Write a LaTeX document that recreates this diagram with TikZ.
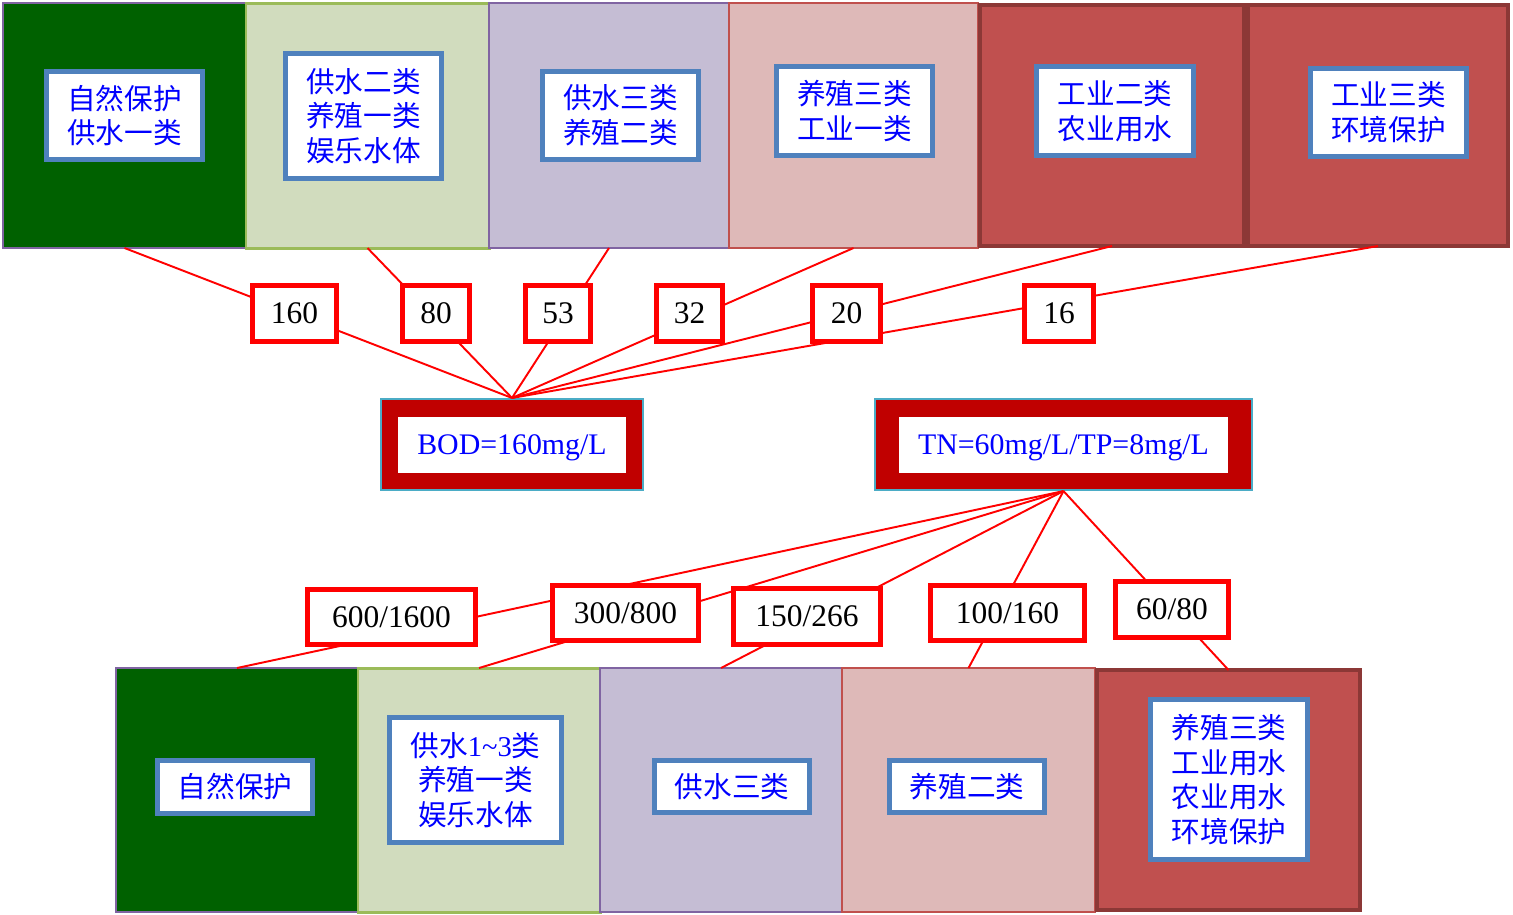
\documentclass[tikz,border=0pt]{standalone}
\usepackage{fontspec}
\setmainfont{Liberation Serif}
\newfontfamily\cjk{Noto Sans CJK SC}
\definecolor{dkgreen}{HTML}{006100}
\definecolor{ltgreen}{HTML}{D1DCBE}
\definecolor{lavender}{HTML}{C5BDD4}
\definecolor{pinkfill}{HTML}{DEB9B8}
\definecolor{brick}{HTML}{C0504F}
\definecolor{brickb}{HTML}{8C3836}
\definecolor{purpleb}{HTML}{8064A2}
\definecolor{greenb}{HTML}{9BBB59}
\definecolor{pinkb}{HTML}{C0504D}
\definecolor{blueb}{HTML}{4F81BD}
\definecolor{cyanb}{HTML}{4BACC6}
\definecolor{darkredfill}{HTML}{C00000}
\definecolor{txtblue}{HTML}{0000FF}
\begin{document}
\begin{tikzpicture}[x=0.02cm,y=-0.02cm,
  sz/.style 2 args={minimum width=#1*0.02cm, minimum height=#2*0.02cm},
  region/.style={rectangle, inner sep=0pt, outer sep=0pt},
  lab/.style={rectangle, draw=blueb, line width=2.8pt, fill=white, inner sep=0pt,
    align=center, text=txtblue, font=\cjk\fontsize{16.3}{19.8}\selectfont},
  num/.style={rectangle, draw=red, line width=2.8pt, fill=white, inner sep=0pt,
    text=black, font=\fontsize{17.9}{20}\selectfont},
  conc/.style={rectangle, fill=darkredfill, draw=cyanb, line width=1.2pt, inner sep=0pt},
  conctext/.style={rectangle, fill=white, inner sep=0pt, text depth=0pt, text=txtblue, font=\fontsize{17}{20}\selectfont},
  link/.style={draw=red, line width=1.1pt}]
\useasboundingbox (0,0) rectangle (1513,914);

% top regions
\node[region, fill=dkgreen, draw=purpleb, line width=1.2pt, sz={243}{245}] (t1) at (124.5,125.5) {};
\node[region, fill=ltgreen, draw=greenb, line width=1.7pt, sz={243}{245}] (t2) at (367.5,125.5) {};
\node[region, fill=lavender, draw=purpleb, line width=1.2pt, sz={240}{245}] (t3) at (609,125.5) {};
\node[region, fill=pinkfill, draw=pinkb, line width=1.2pt, sz={249}{245}] (t4) at (853.5,125.5) {};
\node[region, fill=brick, draw=brickb, line width=2.6pt, sz={264}{241}] (t5) at (1112,125.5) {};
\node[region, fill=brick, draw=brickb, line width=2.6pt, sz={260}{241}] (t6) at (1378,125.5) {};

% top labels
\node[lab, sz={156}{88}] (i1) at (124.5,115.5) {自然保护\\供水一类};
\node[lab, sz={156}{125}] (i2) at (363.5,116) {供水二类\\养殖一类\\娱乐水体};
\node[lab, sz={156}{88}] (i3) at (620.5,115.5) {供水三类\\养殖二类};
\node[lab, sz={156}{89}] (i4) at (854.5,111) {养殖三类\\工业一类};
\node[lab, sz={157}{89}] (i5) at (1115,111) {工业二类\\农业用水};
\node[lab, sz={156}{88}] (i6) at (1388.5,112.5) {工业三类\\环境保护};

% bottom regions
\node[region, fill=dkgreen, draw=purpleb, line width=1.2pt, sz={242}{244}] (b1) at (237,790) {};
\node[region, fill=ltgreen, draw=greenb, line width=1.7pt, sz={242}{244}] (b2) at (479,790) {};
\node[region, fill=lavender, draw=purpleb, line width=1.2pt, sz={242}{244}] (b3) at (721,790) {};
\node[region, fill=pinkfill, draw=pinkb, line width=1.2pt, sz={253}{244}] (b4) at (968.5,790) {};
\node[region, fill=brick, draw=brickb, line width=2.6pt, sz={263}{240}] (b5) at (1228.5,790) {};

% bottom labels
\node[lab, sz={155}{53}] (j1) at (235,787) {自然保护};
\node[lab, sz={172}{125}] (j2) at (475.5,780) {供水{\rmfamily 1\textasciitilde3}类\\养殖一类\\娱乐水体};
\node[lab, sz={155}{52}] (j3) at (732,786.5) {供水三类};
\node[lab, sz={155}{52}] (j4) at (967,786.5) {养殖二类};
\node[lab, sz={157}{160}] (j5) at (1229,779.5) {养殖三类\\工业用水\\农业用水\\环境保护};

% concentration boxes
\node[conc, sz={262}{91}] (bod) at (512,444.5) {};
\node[conctext, sz={228}{56}] (bodt) at (512,445) {BOD=160mg/L};
\node[conc, sz={377}{91}] (tn) at (1063.5,444.5) {};
\node[conctext, sz={329}{56}] (tnt) at (1063.5,445) {TN=60mg/L/TP=8mg/L};

% connectors
\foreach \t in {t1,t2,t3,t4,t5,t6} \draw[link] (\t.south) -- (bod.north);
\foreach \b in {b1,b2,b3,b4,b5} \draw[link] (tn.south) -- (\b.north);

% number boxes (top)
\node[num, sz={84}{56}] (n1) at (294.5,313.5) {160};
\node[num, sz={67}{56}] (n2) at (436,313.5) {80};
\node[num, sz={65}{56}] (n3) at (558,313.5) {53};
\node[num, sz={66}{56}] (n4) at (689.5,313.5) {32};
\node[num, sz={68}{56}] (n5) at (846.5,313.5) {20};
\node[num, sz={69}{56}] (n6) at (1059,313.5) {16};

% number boxes (bottom)
\node[num, sz={168}{55}] (m1) at (391.5,617) {600/1600};
\node[num, sz={146}{55}] (m2) at (625.5,613) {300/800};
\node[num, sz={147}{56}] (m3) at (807,616.5) {150/266};
\node[num, sz={154}{55}] (m4) at (1007.5,613) {100/160};
\node[num, sz={113}{56}] (m5) at (1172,609.5) {60/80};
\end{tikzpicture}
\end{document}
